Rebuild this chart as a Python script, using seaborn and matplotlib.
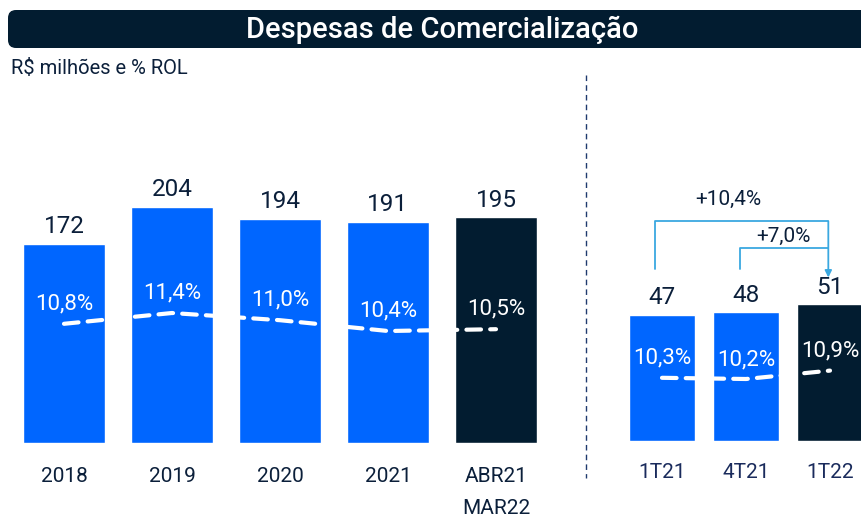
import matplotlib.pyplot as plt
import seaborn as sns
from matplotlib.patches import FancyBboxPatch

# valores
anos = ["2018", "2019", "2020", "2021", "ABR21\nMAR22"]
despesas_anos = [172, 204, 194, 191, 195]
rol_anos = [10.8, 11.4, 11.0, 10.4, 10.5]

trimestres = ["1T21", "4T21", "1T22"]
despesas_tri = [47, 48, 51]
rol_tri = [10.3, 10.2, 10.9]

var_labels = ["+10,4%", "+7,0%"]  # 1T22 vs 1T21 e 1T22 vs 4T21

azul = "#0066FF"
navy = "#021C30"
texto = "#0B1F3A"
ciano = "#3AA8E0"

sns.set_theme(style="white")
plt.rcParams["font.family"] = ["Roboto", "DejaVu Sans"]

W, H = 862, 519
fig = plt.figure(figsize=(W / 100, H / 100), dpi=100)


def px_axes(x0, x1, y_top, y_bot):
    # axes positioned in pixel coords (origin top-left)
    return fig.add_axes([x0 / W, 1 - y_bot / H, (x1 - x0) / W, (y_bot - y_top) / H])


def pct(v):
    return f"{v:.1f}%".replace(".", ",")


# fundo: faixa do titulo, subtitulo e divisoria
bg = fig.add_axes([0, 0, 1, 1], zorder=-1)
bg.set_xlim(0, W)
bg.set_ylim(H, 0)
bg.axis("off")
bg.add_patch(FancyBboxPatch((8, 10), 880, 38, boxstyle="round,pad=0,rounding_size=8",
                            fc=navy, ec="none"))
bg.text(442, 30, "Despesas de Comercialização", color="white", fontsize=21,
        ha="center", va="center", fontweight="medium")
bg.text(11, 68, "R$ milhões e % ROL", color=texto, fontsize=14.5, ha="left", va="center")
bg.plot([586, 586], [75, 478], color="#1F3A6E", lw=1, ls=(0, (4, 3)))


def painel(ax, cats, vals, rols, cores, bar_w, px_val, px_rol, rol_ref, y_ref, ax_h, bottom_px,
           tick_color, tick_pad, lab_off):
    sns.barplot(x=cats, y=vals, hue=cats, palette=cores, width=bar_w, saturation=1,
                legend=False, ax=ax)
    n = len(cats)
    ax.set_ylim(0, ax_h / px_val)
    ax.set_xlim(-0.5, n - 0.5)
    for c in ax.containers:
        ax.bar_label(c, padding=4, fontsize=17.5, color=texto)
    ax.set_xlabel(None)
    ax.set_ylabel(None)
    ax.set_yticks([])
    ax.tick_params(axis="x", length=0, pad=tick_pad, labelsize=15, labelcolor=tick_color)
    sns.despine(ax=ax, left=True, bottom=True)
    ax.patch.set_visible(False)

    axb = ax.twinx()
    sns.lineplot(x=list(range(n)), y=rols, color="white", lw=3, ls=(0, (3.5, 2.2)),
                 dash_capstyle="round", ax=axb)
    lo = rol_ref - (bottom_px - y_ref) / px_rol
    axb.set_ylim(lo, lo + ax_h / px_rol)
    axb.set_xlim(-0.5, n - 0.5)
    axb.set_yticks([])
    axb.set_ylabel(None)
    sns.despine(ax=axb, left=True, bottom=True, right=True)
    for i, v in enumerate(rols):
        axb.annotate(pct(v), (i, v), xytext=(0, lab_off), textcoords="offset points",
                     ha="center", va="center", color="white", fontsize=16)
    return axb


# painel anual
ax1 = px_axes(10, 550, 150, 443)
painel(ax1, anos, despesas_anos, rol_anos, [azul] * 4 + [navy], 0.76,
       1.157, 18, 11.4, 313, 293, 443, texto, 17.5, 14.5)
ax1.get_xticklabels()[-1].set_linespacing(1.85)

# painel trimestral
ax2 = px_axes(620, 872, 150, 441)
painel(ax2, trimestres, despesas_tri, rol_tri, [azul] * 2 + [navy], 0.774,
       2.68, 12, 10.2, 379, 291, 441, "#1A2B5C", 15.5, 14)

# chaves de variacao
x_seta = 2 - 0.02
topo1 = max(despesas_tri) + 31
topo2 = max(despesas_tri) + 21
ax2.plot([-0.08, -0.08, x_seta], [despesas_tri[0] + 17, topo1, topo1],
         color=ciano, lw=1.3, clip_on=False)
ax2.plot([0.93, 0.93, x_seta], [despesas_tri[1] + 16, topo2, topo2],
         color=ciano, lw=1.3, clip_on=False)
ax2.annotate("", xy=(x_seta, despesas_tri[2] + 10), xytext=(x_seta, topo1),
             arrowprops=dict(arrowstyle="-|>", color=ciano, lw=1.3, shrinkA=0, shrinkB=0,
                             mutation_scale=10))
ax2.text(0.79, topo1 + 8, var_labels[0], ha="center", va="center", fontsize=15, color=texto)
ax2.text(1.45, topo2 + 4.5, var_labels[1], ha="center", va="center", fontsize=15, color=texto)

fig.savefig("out.png", dpi=100)
